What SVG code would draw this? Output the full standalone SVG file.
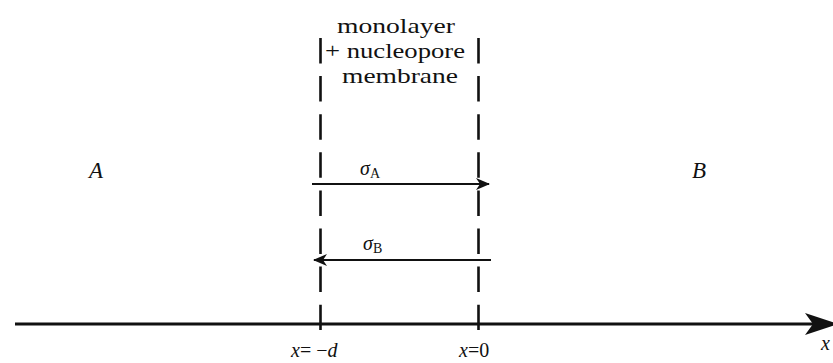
<svg xmlns="http://www.w3.org/2000/svg" width="833" height="363" viewBox="0 0 833 363">
<defs>
<style>
.t{font-family:"Liberation Serif","Times New Roman",serif;fill:#111}
.lbl{font-size:22px}
.it{font-style:italic}
.dash{stroke:#111;stroke-width:2.6;stroke-dasharray:25.5 12.6;fill:none}
.ln{stroke:#111;fill:none}
</style>
<marker id="ah" viewBox="0 0 14 12" refX="13" refY="6" markerWidth="14" markerHeight="12" markerUnits="userSpaceOnUse" orient="auto">
<path d="M0,0 L14,6 L0,12 L4,6 Z" fill="#111"/>
</marker>
</defs>
<rect width="833" height="363" fill="#fff"/>
<g id="connectors">
<line class="dash" x1="320.5" y1="38" x2="320.5" y2="330"/>
<line class="dash" x1="478.5" y1="38" x2="478.5" y2="330"/>
<line class="ln" x1="312" y1="184" x2="489" y2="184" stroke-width="2" marker-end="url(#ah)"/>
<line class="ln" x1="491" y1="260" x2="314" y2="260" stroke-width="2" marker-end="url(#ah)"/>
<line class="ln" x1="15" y1="324" x2="815" y2="324" stroke-width="3"/>
<path d="M805,313 L838,324 L805,335 L813,324 Z" fill="#111"/>
</g>
<g id="label-top">
<text class="t lbl" x="396" y="33" text-anchor="middle" textLength="118" lengthAdjust="spacingAndGlyphs">monolayer</text>
<text class="t lbl" x="395" y="58" text-anchor="middle" textLength="140" lengthAdjust="spacingAndGlyphs">+ nucleopore</text>
<text class="t lbl" x="400" y="83" text-anchor="middle" textLength="116" lengthAdjust="spacingAndGlyphs">membrane</text>
</g>
<g id="region-A"><text class="t it" x="89" y="178" font-size="23">A</text></g>
<g id="region-B"><text class="t it" x="692" y="178" font-size="23">B</text></g>
<g id="sigma-A"><text class="t it" x="360" y="175" font-size="20">σ<tspan font-style="normal" font-size="14" dy="3">A</tspan></text></g>
<g id="sigma-B"><text class="t it" x="363" y="250" font-size="20">σ<tspan font-style="normal" font-size="14" dy="3">B</tspan></text></g>
<g id="axis-labels">
<text class="t it" x="291" y="357" font-size="20">x<tspan font-style="normal">= −</tspan>d</text>
<text class="t it" x="459" y="357" font-size="20">x<tspan font-style="normal">=0</tspan></text>
<text class="t it" x="821" y="350" font-size="20">x</text>
</g>
</svg>
